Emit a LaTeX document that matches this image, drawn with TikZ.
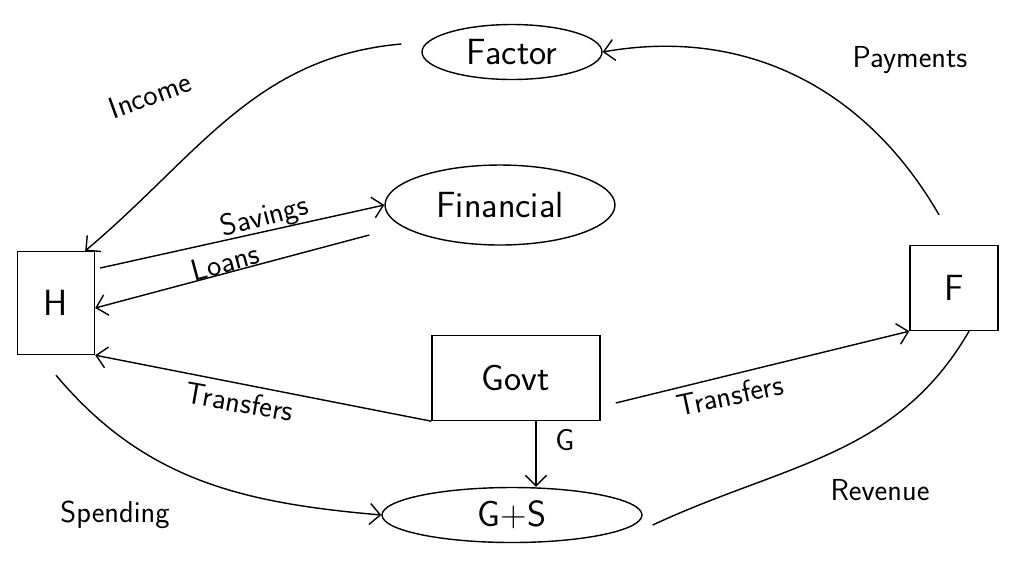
\documentclass[tikz,border=0pt]{standalone}
\usetikzlibrary{arrows.meta,shapes.geometric}
\tikzset{
  box/.style={draw, thick, inner sep=0pt, font=\sffamily\huge},
  oval/.style={draw, thick, ellipse, inner sep=0pt, font=\sffamily\huge},
  flow/.style={thick, -{Straight Barb[length=6pt]}},
  lab/.style={font=\sffamily\LARGE}
}
\begin{document}
\begin{tikzpicture}[x=0.02cm, y=-0.02cm]
        \useasboundingbox (0,0) rectangle (1024,576);
        % sectors
        \node[box, minimum width=1.54cm, minimum height=2.06cm] at (56, 303) (H) {H};
        \node[box, minimum width=1.76cm, minimum height=1.7cm] at (954, 288) (F) {F};
        \node[box, minimum width=3.36cm, minimum height=1.7cm] at (516, 378) (govt) {Govt};
        % markets
        \node[oval, minimum width=3.6cm, minimum height=1.1cm] at (512, 52) (factor) {Factor};
        \node[oval, minimum width=4.6cm, minimum height=1.6cm] at (500, 205) (fin) {Financial};
        \node[oval, minimum width=5.2cm, minimum height=1.1cm] at (512, 515) (gs) {G+S};
        % connectors
        \draw[flow] (factor.west) ++(-20,-8) to[out=185, in=40] ([shift={(-10,0)}]H.north east);
        \draw[flow] (F.north) ++(-15,-30) to[out=120, in=10] (factor.east);
        \draw[flow] (H.east) ++(5,-35) -- (fin.west);
        \draw[flow] (fin.west) ++(-15,30) -- ([shift={(0,5)}]H.east);
        \draw[flow] (govt.south west) -- (H.south east);
        \draw[flow] (govt.east) ++(15,25) -- (F.south west);
        \draw[flow] (govt.south) ++(20,0) -- ([shift={(24,0)}]gs.north);
        \draw[flow] (H.south) ++(0,20) to[out=-50, in=175] (gs.west);
        \draw[thick] (gs.east) ++(10,10) to[out=25, in=-120] ([shift={(15,0)}]F.south);
        % labels
        \node[lab, rotate=20] at (150, 95) (income) {Income};
        \node[lab] at (910, 60) (pay) {Payments};
        \node[lab, rotate=15] at (265, 218) (sav) {Savings};
        \node[lab, rotate=15] at (225, 262) (loans) {Loans};
        \node[lab, rotate=-10] at (240, 402) (tr1) {Transfers};
        \node[lab, rotate=12] at (730, 395) (tr2) {Transfers};
        \node[lab] at (565, 440) (g) {G};
        \node[lab] at (115, 515) (spend) {Spending};
        \node[lab] at (880, 490) (rev) {Revenue};
    \end{tikzpicture}
\end{document}
